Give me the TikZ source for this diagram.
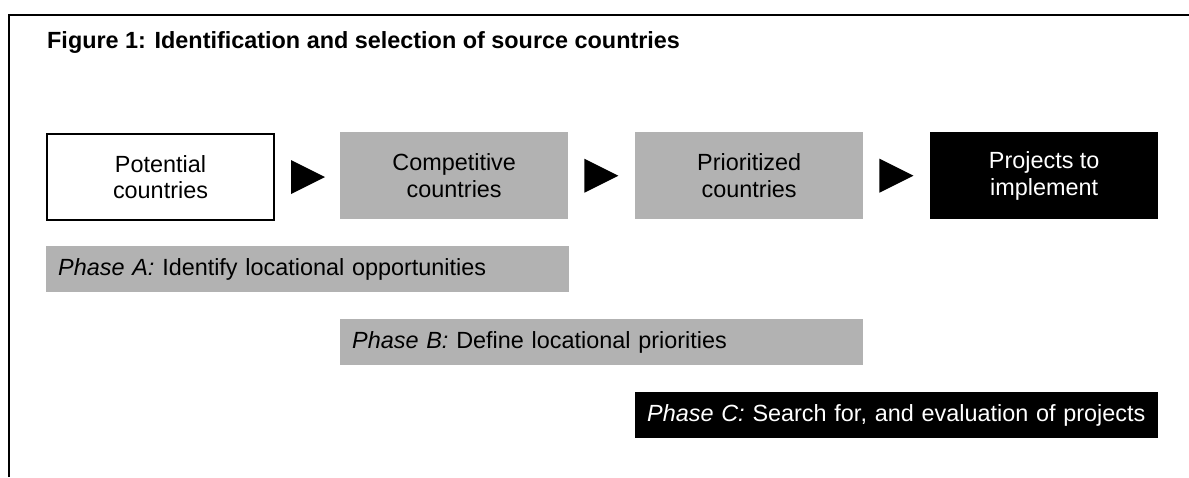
\documentclass[tikz,border=0pt]{standalone}
\usepackage{fontspec}
\setmainfont{Liberation Sans}
\usetikzlibrary{calc}
\definecolor{boxgray}{RGB}{178,178,178}
\begin{document}
\begin{tikzpicture}[x=1pt,y=-1pt,
  txt/.style={font=\fontsize{23.4}{26.5}\selectfont},
  stagebox/.style={txt,anchor=north west,minimum width=228pt,minimum height=87pt,
    inner sep=0pt,align=center},
  whitebox/.style={stagebox,draw=black,line width=2pt,fill=white,
    minimum width=227pt,minimum height=86pt},
  graybox/.style={stagebox,fill=boxgray,text=black},
  blackbox/.style={stagebox,fill=black,text=white},
  phasebar/.style={txt,anchor=north west,text width=499pt,align=left,
    inner xsep=12pt,inner ysep=0pt,minimum height=46pt},
  pointer/.style={fill=black}
]
\useasboundingbox (0,0) rectangle (1189,477);

% frame: top rule and left rule
\draw[line width=2pt] (9,477) -- (9,15) -- (1189,15);

% heading
\node[txt,font=\fontsize{23.4}{26.5}\selectfont\bfseries,anchor=base west,inner sep=0pt]
  (title) at (47,48) {Figure 1: Identification and selection of source countries};

% stages
\node[whitebox] (b1) at (46,133) {Potential\\countries};
\node[graybox]  (b2) at (340,132) {Competitive\\countries};
\node[graybox]  (b3) at (635,132) {Prioritized\\countries};
\node[blackbox] (b4) at (930,132) {Projects to\\implement};

% triangular pointers between stages
\foreach \a/\b in {b1/b2,b2/b3,b3/b4}{
  \fill[pointer] ($(\a.east)+(16,-17)$) -- ($(\a.east)+(50,0)$)
    -- ($(\a.east)+(16,17)$) -- cycle;
}

% phases
\node[phasebar,fill=boxgray] (pa) at (46,246)
  {\textit{Phase A:} Identify locational opportunities};
\node[phasebar,fill=boxgray] (pb) at (340,319)
  {\textit{Phase B:} Define locational priorities};
\node[phasebar,fill=black,text=white] (pc) at (635,392)
  {\textit{Phase C:} Search for, and evaluation of projects};
\end{tikzpicture}
\end{document}
